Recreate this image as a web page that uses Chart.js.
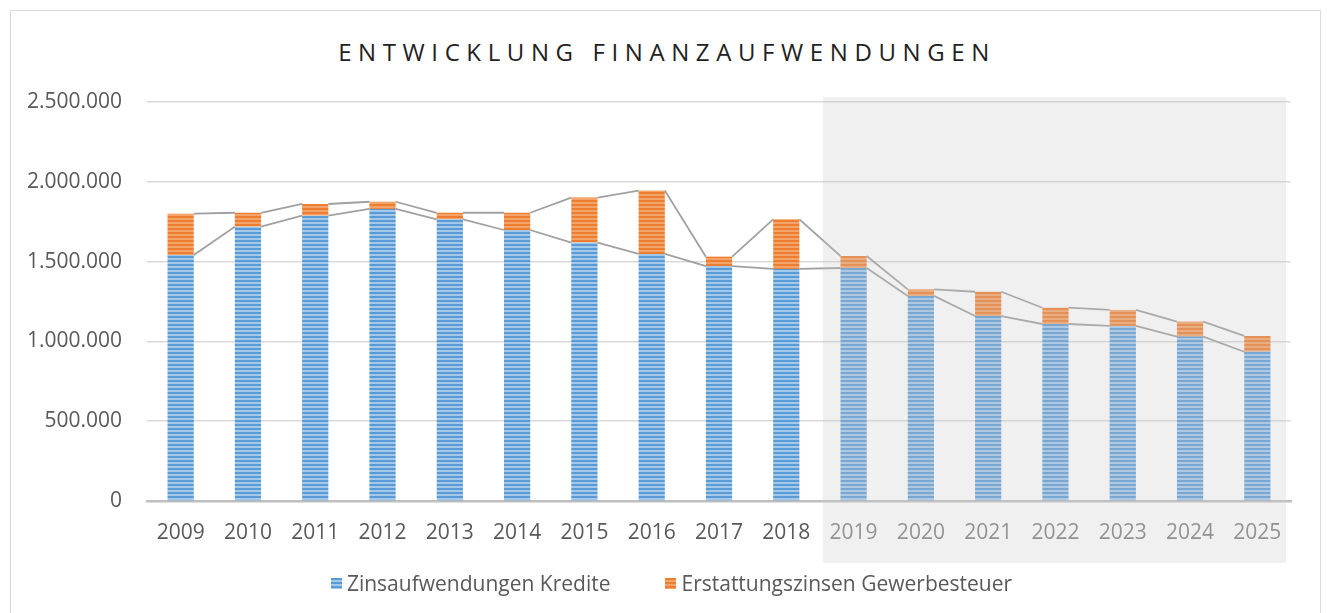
<!DOCTYPE html>
<html lang="de">
<head>
<meta charset="UTF-8">
<title>Entwicklung Finanzaufwendungen</title>
<script src="https://cdn.jsdelivr.net/npm/chart.js"></script>
<style>
  html, body { margin: 0; padding: 0; background: #fff; overflow: hidden; }
  .rahmen { position: absolute; left: 10px; top: 10px; width: 1309px; height: 640px; border: 1.5px solid #d9d9d9; }
  .titel { position: absolute; left: 0; top: 36px; width: 1327px; padding-left: 7px; box-sizing: border-box;
           text-align: center; font: 24px/32px "Open Sans"; letter-spacing: 6.6px; color: #222; }
  .diagramm { position: absolute; left: 0; top: 0; width: 1327px; height: 613px; }
  .legende { position: absolute; left: 0; top: 569px; width: 1327px; padding-left: 16px; box-sizing: border-box;
             display: flex; justify-content: center; gap: 55px; font: 21px/28px "Open Sans"; color: #595959; }
  .legende span { display: flex; align-items: center; }
  .legende i { display: inline-block; width: 11px; height: 11px; margin-right: 5px; }
  .blau { background: repeating-linear-gradient(to bottom, #5b9bd5 0 2px, #a3c8ea 2px 4px); }
  .orange { background: repeating-linear-gradient(to bottom, #ed7d31 0 2px, #f4a468 2px 4px); }
</style>
</head>
<body>
<div class="rahmen"></div>
<div class="titel">ENTWICKLUNG FINANZAUFWENDUNGEN</div>
<div class="diagramm"><canvas id="finanz"></canvas></div>
<div class="legende">
  <span><i class="blau"></i>Zinsaufwendungen Kredite</span>
  <span><i class="orange"></i>Erstattungszinsen Gewerbesteuer</span>
</div>

<script>
// Jahre und Werte (Euro)
const jahre = ['2009','2010','2011','2012','2013','2014','2015','2016','2017','2018',
               '2019','2020','2021','2022','2023','2024','2025'];
const zinsKredite = [1541000, 1719000, 1788000, 1830000, 1765000, 1698000, 1619000, 1548000, 1472000,
                     1454000, 1460000, 1285000, 1159000, 1109000, 1097000, 1030000, 935000];
const erstattungszinsen = [259000, 87000, 73000, 45000, 41000, 108000, 282000, 397000, 59000,
                           311000, 75000, 41000, 152000, 102000, 100000, 94000, 99000];
const yTicks = [0, 500000, 1000000, 1500000, 2000000, 2500000];
const prognoseAb = '2019';

const schrift = '"Open Sans"';

// gestreifte Füllung wie in Excel
function streifen(dunkel, hell) {
    const c = document.createElement('canvas');
    c.width = 4; c.height = 4;
    const g = c.getContext('2d');
    g.fillStyle = hell; g.fillRect(0, 0, 4, 4);
    g.fillStyle = dunkel; g.fillRect(0, 0, 4, 2);
    return g.createPattern(c, 'repeat');
}

function tausender(v) {
    return String(v).replace(/\B(?=(\d{3})+(?!\d))/g, '.');
}

// Verbindungslinien zwischen den Säulen
const reihenLinien = {
    id: 'reihenLinien',
    afterDatasetsDraw(chart) {
        const ctx = chart.ctx;
        ctx.save();
        ctx.strokeStyle = '#a0a0a0';
        ctx.lineWidth = 1.8;
        chart.data.datasets.forEach((ds, d) => {
            const bars = chart.getDatasetMeta(d).data;
            for (let i = 0; i < bars.length - 1; i++) {
                const a = bars[i], b = bars[i + 1];
                ctx.beginPath();
                ctx.moveTo(a.x + a.width / 2, a.y);
                ctx.lineTo(b.x - b.width / 2, b.y);
                ctx.stroke();
            }
        });
        ctx.restore();
    }
};

// graue Fläche über den Planjahren
const prognoseFlaeche = {
    id: 'prognoseFlaeche',
    afterDraw(chart) {
        const x = chart.scales.x, y = chart.scales.y;
        const start = jahre.indexOf(prognoseAb);
        const schritt = x.getPixelForValue(1) - x.getPixelForValue(0);
        const links = x.getPixelForValue(start) - schritt / 2 + 3;
        const rechts = x.getPixelForValue(jahre.length - 1) + schritt / 2 - 5;
        const oben = y.getPixelForValue(yTicks[yTicks.length - 1]) - 5;
        const unten = chart.chartArea.bottom + 62;
        const ctx = chart.ctx;
        ctx.save();
        ctx.fillStyle = 'rgba(200, 200, 200, 0.27)';
        ctx.fillRect(links, oben, rechts - links, unten - oben);
        ctx.restore();
    }
};

new Chart(document.getElementById('finanz'), {
    type: 'bar',
    data: {
        labels: jahre,
        datasets: [{
            label: 'Zinsaufwendungen Kredite',
            data: zinsKredite,
            backgroundColor: streifen('#5b9bd5', '#a3c8ea'),
            borderWidth: 0
        }, {
            label: 'Erstattungszinsen Gewerbesteuer',
            data: erstattungszinsen,
            backgroundColor: streifen('#ed7d31', '#f4a468'),
            borderWidth: 0
        }]
    },
    plugins: [reihenLinien, prognoseFlaeche],
    options: {
        responsive: true,
        maintainAspectRatio: false,
        animation: false,
        devicePixelRatio: 1,
        datasets: { bar: { barPercentage: 0.39, categoryPercentage: 1 } },
        layout: { padding: { top: 102, right: 36, left: 0, bottom: 50 } },
        plugins: {
            title: { display: false },
            tooltip: { enabled: false },
            legend: { display: false }
        },
        scales: {
            x: {
                stacked: true,
                afterFit(scale) { scale.height = 62; },
                grid: { display: false },
                border: { color: '#bfbfbf', width: 2.5 },
                ticks: {
                    padding: 11,
                    font: { family: schrift, size: 21 },
                    color: c => c.index >= jahre.indexOf(prognoseAb) ? '#7f7f7f' : '#595959'
                }
            },
            y: {
                stacked: true,
                min: yTicks[0],
                max: yTicks[yTicks.length - 1],
                afterFit(scale) { scale.width = 147; },
                afterBuildTicks(scale) { scale.ticks = yTicks.map(v => ({ value: v })); },
                grid: { color: '#d9d9d9', lineWidth: 1.5, drawTicks: false },
                border: { display: false },
                ticks: {
                    padding: 25,
                    font: { family: schrift, size: 21 },
                    color: '#595959',
                    callback: v => tausender(v)
                }
            }
        }
    }
});
</script>
</body>
</html>
